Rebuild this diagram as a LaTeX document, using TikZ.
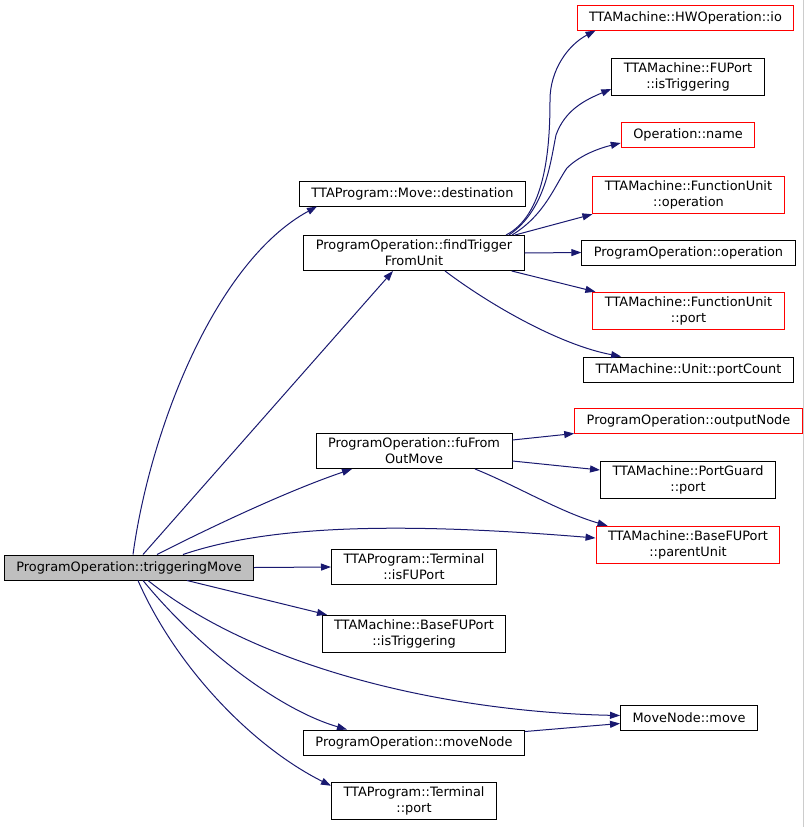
\documentclass[tikz,border=0pt]{standalone}
\usepackage{fontspec}
\setmainfont{DejaVu Sans}
\usepackage{tikz}
\usetikzlibrary{arrows.meta}
\definecolor{callblue}{RGB}{25,25,112}
\definecolor{extred}{RGB}{255,0,0}
\tikzstyle{fn} = [rectangle,
draw=black,
line width=1pt,
fill=white,
minimum height=25pt,
inner xsep=12pt, inner ysep=4.5pt,
align=center,
font=\fontsize{12.9}{16}\selectfont]
\tikzstyle{fnext} = [fn, draw=extred]
\tikzstyle{fncur} = [fn, fill=black!25]
\tikzstyle{call} = [callblue, line width=1pt, -{Triangle[length=10pt,width=7pt]}]

\begin{document}
\begin{tikzpicture}[x=1pt, y=-1pt]
            \useasboundingbox (0,0) rectangle (807,827);
            \draw [black!20] (803,0) -- (803,827);

            % caller
            \node (trigMove) [fncur] at (129,567.5) {ProgramOperation::triggeringMove};

            % middle column
            \node (moveDest) [fn] at (412.5,193.5) {TTAProgram::Move::destination};
            \node (findTrigger) [fn] at (414,253) {ProgramOperation::findTrigger\\FromUnit};
            \node (fuFromOut) [fn] at (414,451) {ProgramOperation::fuFrom\\OutMove};
            \node (termIsFU) [fn] at (414,567) {TTAProgram::Terminal\\::isFUPort};
            \node (baseIsTrig) [fn] at (414,634) {TTAMachine::BaseFUPort\\::isTriggering};
            \node (moveNodeN) [fn] at (414,742.5) {ProgramOperation::moveNode};
            \node (termPort) [fn] at (414,801) {TTAProgram::Terminal\\::port};

            % right column
            \node (hwIo) [fnext] at (685.5,17.5) {TTAMachine::HWOperation::io};
            \node (fuIsTrig) [fn] at (688,77) {TTAMachine::FUPort\\::isTriggering};
            \node (opName) [fnext] at (688,134.5) {Operation::name};
            \node (fuOperation) [fnext] at (688.5,195) {TTAMachine::FunctionUnit\\::operation};
            \node (poOperation) [fn] at (688.5,252.5) {ProgramOperation::operation};
            \node (fuPort) [fnext] at (688.5,311) {TTAMachine::FunctionUnit\\::port};
            \node (portCount) [fn] at (688.5,369.5) {TTAMachine::Unit::portCount};
            \node (outputNode) [fnext] at (688.5,420.5) {ProgramOperation::outputNode};
            \node (guardPort) [fn] at (688,480) {TTAMachine::PortGuard\\::port};
            \node (parentUnit) [fnext] at (688,545) {TTAMachine::BaseFUPort\\::parentUnit};
            \node (mnMove) [fn] at (689,717.5) {MoveNode::move};

            % calls of triggeringMove
            \draw [call] ([xshift=4pt]trigMove.north) .. controls (150,430) and (215,262) .. ([xshift=18pt]moveDest.south west);
            \draw [call] ([xshift=14pt]trigMove.north) -- ([xshift=-21pt]findTrigger.south);
            \draw [call] ([xshift=28pt]trigMove.north) .. controls (215,525) and (290,490) .. ([xshift=-62pt]fuFromOut.south);
            \draw [call] ([xshift=54pt]trigMove.north) .. controls (270,525) and (400,522) .. ([yshift=7pt]parentUnit.west);
            \draw [call] (trigMove.east) -- (termIsFU.west);
            \draw [call] ([xshift=58pt]trigMove.south) -- ([xshift=-87pt]baseIsTrig.north);
            \draw [call] ([xshift=19pt]trigMove.south) .. controls (260,670) and (450,712) .. ([yshift=2pt]mnMove.west);
            \draw [call] ([xshift=14pt]trigMove.south) .. controls (200,650) and (280,710) .. ([xshift=-67pt]moveNodeN.north);
            \draw [call] ([xshift=9pt]trigMove.south) .. controls (175,665) and (250,745) .. ([yshift=-4pt]termPort.north west);

            % calls of findTriggerFromUnit
            \draw [call] ([xshift=92pt]findTrigger.north) .. controls (545,215) and (550,150) .. (550,100) .. controls (550,70) and (568,45) .. ([xshift=19pt]hwIo.south west);
            \draw [call] ([xshift=95pt]findTrigger.north) .. controls (545,210) and (550,165) .. (556,135) .. controls (565,110) and (585,100) .. ([yshift=-12pt]fuIsTrig.west);
            \draw [call] ([xshift=98pt]findTrigger.north) .. controls (545,215) and (555,185) .. (567,168) .. controls (580,155) and (600,148) .. ([yshift=-8.5pt]opName.west);
            \draw [call] ([xshift=101pt]findTrigger.north) -- (fuOperation.south west);
            \draw [call] (findTrigger.east) -- (poOperation.west);
            \draw [call] ([xshift=-13pt]findTrigger.south east) -- ([xshift=3pt]fuPort.north west);
            \draw [call] ([xshift=31pt]findTrigger.south) .. controls (490,305) and (560,345) .. ([xshift=38pt]portCount.north west);

            % calls of fuFromOutMove
            \draw [call] ([yshift=11pt]fuFromOut.east) -- (outputNode.south west);
            \draw [call] ([yshift=-10pt]fuFromOut.east) -- ([yshift=10pt]guardPort.west);
            \draw [call] ([xshift=61pt]fuFromOut.south) .. controls (515,485) and (560,512) .. ([xshift=12pt]parentUnit.north west);

            % calls of moveNode
            \draw [call] ([yshift=-2pt]moveNodeN.north east) -- ([yshift=7pt]mnMove.south west);
        \end{tikzpicture}
\end{document}
